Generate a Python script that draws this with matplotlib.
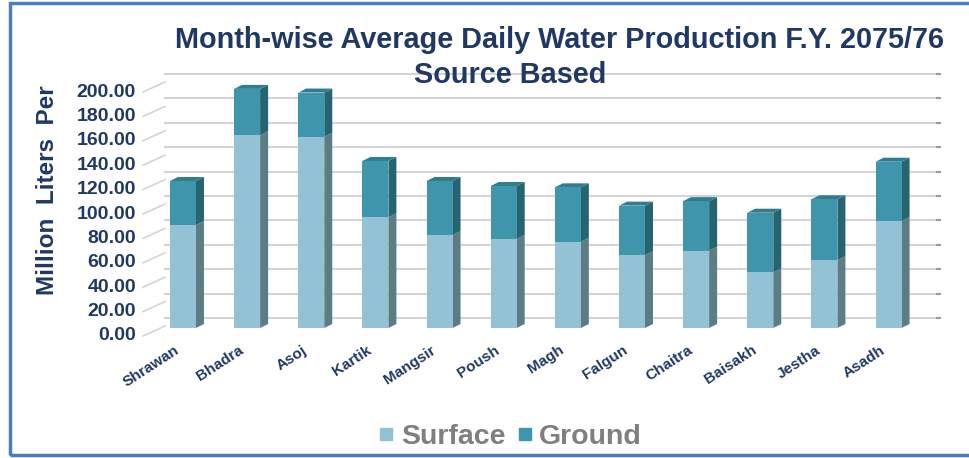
import matplotlib
matplotlib.use("Agg")
import matplotlib.pyplot as plt
from matplotlib.patches import Polygon, Rectangle
from matplotlib.lines import Line2D
from matplotlib.transforms import ScaledTranslation
import numpy as np

plt.rcParams['font.family'] = ['Liberation Sans', 'DejaVu Sans']

months = ["Shrawan", "Bhadra", "Asoj", "Kartik", "Mangsir", "Poush", "Magh",
          "Falgun", "Chaitra", "Baisakh", "Jestha", "Asadh"]
surface = [84.4, 158.0, 156.8, 90.7, 76.2, 73.0, 70.7, 59.8, 63.4, 45.6, 55.7, 87.7]
ground = [36.1, 38.0, 36.2, 46.2, 44.3, 43.4, 44.6, 40.5, 40.6, 48.9, 49.8, 48.6]
yticks = [0, 20, 40, 60, 80, 100, 120, 140, 160, 180, 200]
series_names = ["Surface", "Ground"]

NAVY = '#1f3864'
C_SURF = '#92c2d4'
C_SURF_SIDE = '#5e7c86'
C_GRD = '#3f95ac'
C_GRD_SIDE = '#266470'
C_GRD_TOP = '#2f7d8e'

W, H = 970, 458
fig = plt.figure(figsize=(W / 100, H / 100), dpi=100)

def fx(px):
    return px / W

def fy(py_top):
    return 1 - py_top / H

ax_left, ax_right = 145, 925
ax_top, ax_bot = 74, 328
ax = fig.add_axes([fx(ax_left), fy(ax_bot), fx(ax_right - ax_left), (ax_bot - ax_top) / H])
ax.set_xlim(-0.592, 11.568)
ax.set_ylim(0, 208.2)
ax.axis('off')

px_per_x = (ax_right - ax_left) / (11.568 + 0.592)
px_per_y = (ax_bot - ax_top) / 208.2

def off(dx_px, dy_px):
    return ScaledTranslation(dx_px / 100, dy_px / 100, fig.dpi_scale_trans)

def axfrac(px):
    return (px - ax_left) / (ax_right - ax_left)

# back wall grid + left wall diagonals + tick labels
ytr = ax.get_yaxis_transform()
for v in yticks:
    ax.plot([axfrac(165), axfrac(937)], [v, v],
            color='#d4d4d4', lw=1.5, transform=ytr + off(0, 10), clip_on=False, zorder=0)
    ax.plot([axfrac(937), axfrac(940)], [v, v],
            color='#9a9a9a', lw=1.5, transform=ytr + off(0, 10), clip_on=False, zorder=0)
    ax.plot([axfrac(143), axfrac(165)], [v, v + 10 / px_per_y],
            color='#d4d4d4', lw=1.2, transform=ytr + off(0, -8), clip_on=False, zorder=0)
    ax.text(axfrac(136), v, f"{v:.2f}", transform=ytr + off(0, -8),
            ha='right', va='center', fontsize=14, fontweight='bold', color=NAVY)

# bars with pseudo-3D faces
x = np.arange(len(months))
bw = 26 / px_per_x
ddx = 8 / px_per_x
ddy = 4 / px_per_y
ax.bar(x, surface, width=bw, color=C_SURF, zorder=3)
ax.bar(x, ground, width=bw, bottom=surface, color=C_GRD, zorder=3)
for i in range(len(months)):
    xr = x[i] + bw / 2
    xl = x[i] - bw / 2
    s = surface[i]
    t = surface[i] + ground[i]
    ax.add_patch(Polygon([(xr, 0), (xr + ddx, ddy), (xr + ddx, s + ddy), (xr, s)],
                         closed=True, color=C_SURF_SIDE, zorder=2, lw=0))
    ax.add_patch(Polygon([(xr, s), (xr + ddx, s + ddy), (xr + ddx, t + ddy), (xr, t)],
                         closed=True, color=C_GRD_SIDE, zorder=2, lw=0))
    ax.add_patch(Polygon([(xl, t), (xl + ddx, t + ddy), (xr + ddx, t + ddy), (xr, t)],
                         closed=True, color=C_GRD_TOP, zorder=2, lw=0))
    ax.text(x[i], 0, months[i], transform=ax.transData + off(-9, -15), rotation=33,
            rotation_mode='anchor', ha='right', va='top', fontsize=11, fontweight='bold', color=NAVY)

# titles
fig.text(fx(560), fy(40), "Month-wise Average Daily Water Production F.Y. 2075/76",
         ha='center', va='center', fontsize=20.8, fontweight='bold', color=NAVY)
fig.text(fx(510), fy(75), "Source Based", ha='center', va='center',
         fontsize=20.8, fontweight='bold', color=NAVY)
fig.text(fx(48), fy(190), "Million  Liters  Per", rotation=90, ha='center', va='center',
         fontsize=17.5, fontweight='bold', color=NAVY)

# legend
handles = [Line2D([], [], marker='s', ls='none', markersize=9, color=C_SURF),
           Line2D([], [], marker='s', ls='none', markersize=9, color=C_GRD)]
leg = fig.legend(handles, series_names, loc='center', bbox_to_anchor=(fx(510), fy(437)),
                 ncol=2, frameon=False, handlelength=0.6, handletextpad=0.2,
                 columnspacing=0.4, prop={'weight': 'bold', 'size': 20.5})
for t in leg.get_texts():
    t.set_color('#7f7f7f')

# blue frame
fig.patches.append(Rectangle((fx(10), fy(455)), 1.2, (455 - 3) / H, transform=fig.transFigure,
                             fill=False, edgecolor='#4a7ebb', lw=2.5))

fig.savefig("out.png", dpi=100)
